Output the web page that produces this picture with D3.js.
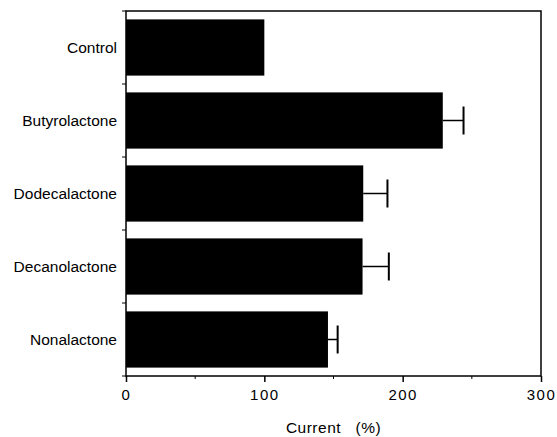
<!DOCTYPE html>
<html>
<head>
<meta charset="utf-8">
<script src="https://cdn.jsdelivr.net/npm/d3@7"></script>
<style>
  body { margin: 0; background: #fff; }
  text { font-family: "Liberation Sans", Arial, Helvetica, sans-serif; }
</style>
</head>
<body>
<script>
// valori
var categories = ["Control", "Butyrolactone", "Dodecalactone", "Decanolactone", "Nonalactone"];
var values = [100, 229, 171.5, 171, 146];
var errors = [0, 15, 17.5, 19, 7];
var majorTicks = [0, 100, 200, 300];
var minorTicks = [50, 150, 250];

var width = 557, height = 437;
var margin = {top: 11, right: 16, bottom: 61, left: 126};
var w = width - margin.left - margin.right,
    h = height - margin.top - margin.bottom;

var svg = d3.select("body").append("svg")
    .attr("width", width)
    .attr("height", height)
  .append("g")
    .attr("transform", "translate(" + margin.left + "," + margin.top + ")");

var x = d3.scaleLinear().domain([0, 300]).range([0, w]);
var y = d3.scaleBand().domain(categories).range([0, h]).paddingInner(0.23).paddingOuter(0.115);
var band = h / categories.length;

// barre
svg.selectAll(".bar")
    .data(categories)
    .enter()
    .append("rect")
    .attr("x", x(0))
    .attr("y", function(d) { return y(d); })
    .attr("width", function(d, i) { return x(values[i]) - x(0); })
    .attr("height", y.bandwidth())
    .attr("fill", "black");

// barre di errore
var capH = 28;
var err = svg.selectAll(".err")
    .data(categories.filter(function(d, i) { return errors[i] > 0; }))
    .enter()
    .append("g");
err.append("line")
    .attr("x1", function(d) { return x(values[categories.indexOf(d)]); })
    .attr("x2", function(d) { var i = categories.indexOf(d); return x(values[i] + errors[i]); })
    .attr("y1", function(d) { return y(d) + y.bandwidth() / 2; })
    .attr("y2", function(d) { return y(d) + y.bandwidth() / 2; })
    .attr("stroke", "black").attr("stroke-width", 1.5);
err.append("line")
    .attr("x1", function(d) { var i = categories.indexOf(d); return x(values[i] + errors[i]); })
    .attr("x2", function(d) { var i = categories.indexOf(d); return x(values[i] + errors[i]); })
    .attr("y1", function(d) { return y(d) + y.bandwidth() / 2 - capH / 2; })
    .attr("y2", function(d) { return y(d) + y.bandwidth() / 2 + capH / 2; })
    .attr("stroke", "black").attr("stroke-width", 2);

// cornice
svg.append("rect")
    .attr("x", 0).attr("y", 0)
    .attr("width", w).attr("height", h)
    .attr("fill", "none")
    .attr("stroke", "black")
    .attr("stroke-width", 1.5);

// asse x
var xAxis = svg.append("g")
    .attr("transform", "translate(0," + h + ")")
    .call(d3.axisBottom(x).tickValues(majorTicks).tickSize(6).tickPadding(7).tickFormat(d3.format("d")));
xAxis.select(".domain").remove();
xAxis.selectAll("line").attr("stroke-width", 1.5);
xAxis.selectAll("text")
    .attr("font-size", "15px")
    .attr("letter-spacing", "1.5px")
    .attr("font-family", "Liberation Sans, Arial, sans-serif");

svg.append("g")
    .selectAll("line")
    .data(minorTicks)
    .enter()
    .append("line")
    .attr("x1", function(d) { return x(d); })
    .attr("x2", function(d) { return x(d); })
    .attr("y1", h)
    .attr("y2", h + 3)
    .attr("stroke", "black");

// asse y: tacche tra le categorie
svg.append("g")
    .selectAll("line")
    .data(d3.range(categories.length + 1))
    .enter()
    .append("line")
    .attr("x1", -4).attr("x2", 0)
    .attr("y1", function(d) { return d * band; })
    .attr("y2", function(d) { return d * band; })
    .attr("stroke", "black");

svg.append("g")
    .selectAll("text")
    .data(categories)
    .enter()
    .append("text")
    .attr("x", -9)
    .attr("y", function(d) { return y(d) + y.bandwidth() / 2; })
    .attr("dy", "0.35em")
    .attr("text-anchor", "end")
    .attr("font-size", "15.5px")
    .text(function(d) { return d; });

// titolo asse
svg.append("text")
    .attr("x", w / 2)
    .attr("y", h + 57)
    .attr("text-anchor", "middle")
    .attr("font-size", "15.5px")
    .attr("letter-spacing", "0.5px")
    .style("white-space", "pre")
    .text("Current   (%)");
</script>
</body>
</html>
